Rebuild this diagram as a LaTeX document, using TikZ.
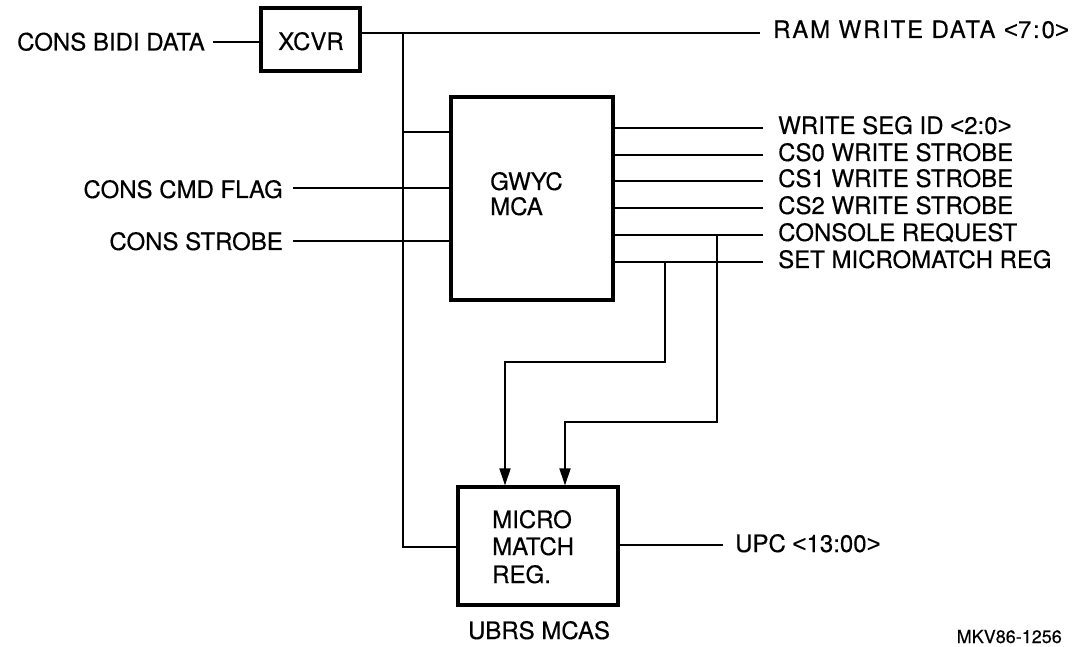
\documentclass[tikz,border=0pt]{standalone}
\usepackage{fontspec}
\setmainfont{TeX Gyre Heros}
\newfontfamily\lblfont[FakeBold=0.35]{TeX Gyre Heros}
\newfontfamily\widefont[FakeBold=0.35,LetterSpace=7.5]{TeX Gyre Heros}
\newfontfamily\symfont[FakeBold=0.2]{Liberation Sans}
\newcommand{\lsign}{{\symfont<}}
\newcommand{\gsign}{{\symfont>}}
\usetikzlibrary{arrows.meta}
\begin{document}
\begin{tikzpicture}[x=1pt,y=-1pt,
  blk/.style={draw,line width=3.2pt,inner sep=0pt},
  wire/.style={line width=1.8pt},
  arr/.style={wire,-{Triangle[length=17pt,width=11pt]}},
  lbl/.style={inner sep=0pt,font=\lblfont\fontsize{24}{27.5}\selectfont},
  widelbl/.style={inner sep=0pt,font=\widefont\fontsize{24}{27.5}\selectfont},
  note/.style={inner sep=0pt,font=\lblfont\fontsize{18}{20}\selectfont}]
\useasboundingbox (0,0) rectangle (1079,647);
\fill[white] (0,0) rectangle (1079,647);

% boxes
\node[blk,minimum width=99pt,minimum height=63pt] (xcvr) at (310.5,39.5) {};
\node[lbl,anchor=base] (xcvrt) at (311,50) {XCVR};
\node[blk,minimum width=162pt,minimum height=203pt] (gwyc) at (532,198.5) {};
\node[lbl,anchor=base west] (gwyc1) at (490,190) {GWYC};
\node[lbl,anchor=base west] (gwyc2) at (490,215) {MCA};
\node[blk,minimum width=160pt,minimum height=118pt] (micro) at (538,546) {};
\node[lbl,anchor=base west] (micro1) at (492,528) {MICRO};
\node[lbl,anchor=base west] (micro2) at (492,555) {MATCH};
\node[lbl,anchor=base west] (micro3) at (492,583) {REG.};
\node[lbl,anchor=base] (ubrs) at (539,639) {UBRS MCAS};
\node[note,anchor=base east] (mkv) at (1062,643) {MKV86-1256};

% inputs
\node[lbl,anchor=base east] (bidi) at (205,50.5) {CONS BIDI DATA};
\coordinate (bidiend) at (213,42);
\draw[wire] (bidiend) -- (xcvr.west |- bidiend);
\node[lbl,anchor=base east] (cmd) at (283,198) {CONS CMD FLAG};
\coordinate (cmdend) at (293,188);
\draw[wire] (cmdend) -- (gwyc.west |- cmdend);
\node[lbl,anchor=base east] (strb) at (283,250) {CONS STROBE};
\coordinate (strbend) at (293,241);
\draw[wire] (strbend) -- (gwyc.west |- strbend);

% data bus
\coordinate (j1) at (403,33);
\coordinate (j2) at (403,132);
\coordinate (j3) at (403,547);
\coordinate (ramend) at (760,33);
\node[widelbl,anchor=base west] (ram) at (773,38) {RAM WRITE DATA \lsign7:0\gsign};
\draw[wire] (xcvr.east |- j1) -- (ramend);
\draw[wire] (j1) -- (j3) -- (micro.west |- j3);
\draw[wire] (j2) -- (gwyc.west |- j2);

% outputs
\coordinate (o1) at (763,128);
\coordinate (o2) at (763,155);
\coordinate (o3) at (763,181);
\coordinate (o4) at (763,208);
\coordinate (o5) at (763,235);
\coordinate (o6) at (763,262);
\node[lbl,anchor=base west] (l1) at (778,134) {WRITE SEG ID \lsign2:0\gsign};
\node[lbl,anchor=base west] (l2) at (778,161) {CS0 WRITE STROBE};
\node[lbl,anchor=base west] (l3) at (778,187) {CS1 WRITE STROBE};
\node[lbl,anchor=base west] (l4) at (778,214) {CS2 WRITE STROBE};
\node[lbl,anchor=base west] (l5) at (778,241) {CONSOLE REQUEST};
\node[lbl,anchor=base west] (l6) at (778,268) {SET MICROMATCH REG};
\foreach \o in {o1,o2,o3,o4,o5,o6}
  \draw[wire] (gwyc.east |- \o) -- (\o);

% feedback to micro match
\coordinate (a1) at (665,262);
\coordinate (a2) at (665,362);
\coordinate (a3) at (505,362);
\draw[arr] (a1) -- (a2) -- (a3) -- (a3 |- micro.north);
\coordinate (b1) at (717,235);
\coordinate (b2) at (717,422);
\coordinate (b3) at (565,422);
\draw[arr] (b1) -- (b2) -- (b3) -- (b3 |- micro.north);

% UPC
\coordinate (upcend) at (723,545);
\node[lbl,anchor=base west] (upc) at (735,552) {UPC \lsign13:00\gsign};
\draw[wire] (micro.east |- upcend) -- (upcend);
\end{tikzpicture}
\end{document}
